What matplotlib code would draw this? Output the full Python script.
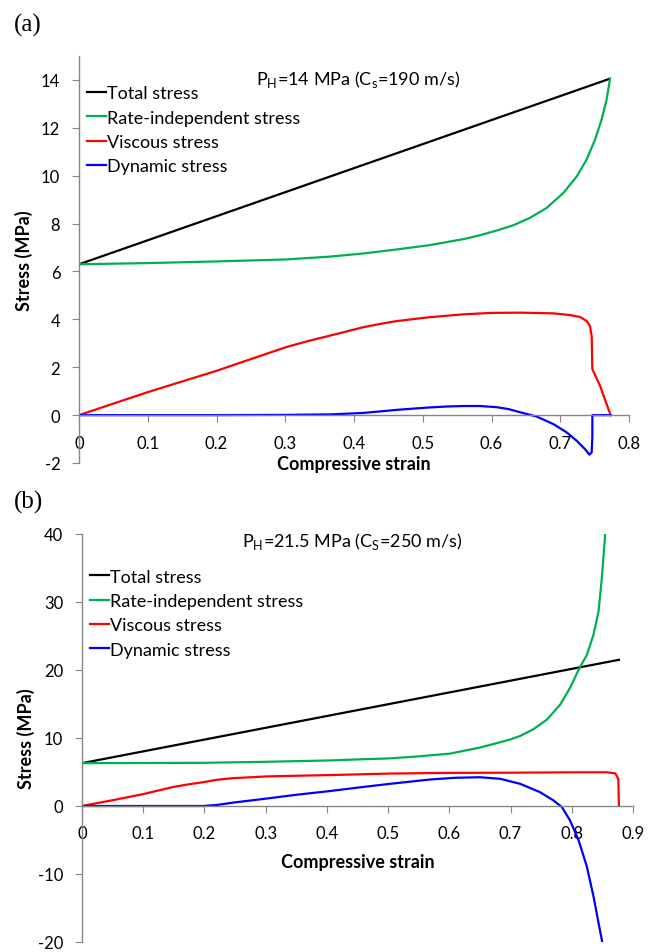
import numpy as np
import matplotlib.pyplot as plt

plt.rcParams['font.family'] = ['Lato', 'DejaVu Sans']
plt.rcParams['mathtext.fontset'] = 'custom'
plt.rcParams['mathtext.rm'] = 'Lato'
plt.rcParams['axes.unicode_minus'] = False

# ---- panel (a): P_H = 14 MPa ----
a_total_x = [0.0, 0.772]
a_total_y = [6.3, 14.05]

a_rate_x = [0.0, 0.1, 0.2, 0.3, 0.365, 0.413, 0.4625, 0.51, 0.559, 0.583,
            0.6075, 0.6317, 0.656, 0.68, 0.7045, 0.724, 0.7383, 0.7505, 0.760,
            0.7674, 0.7724]
a_rate_y = [6.3, 6.35, 6.42, 6.5, 6.62, 6.75, 6.92, 7.1, 7.35, 7.51,
            7.71, 7.93, 8.24, 8.65, 9.28, 9.97, 10.67, 11.5, 12.33,
            13.17, 14.05]

a_visc_x = [0.0, 0.1, 0.2, 0.3, 0.33, 0.365, 0.39, 0.413, 0.44, 0.4625,
            0.51, 0.559, 0.6, 0.6415, 0.69, 0.714, 0.7287, 0.7384, 0.7433,
            0.7457, 0.7467, 0.758, 0.7665, 0.7733]
a_visc_y = [0.0, 0.96, 1.85, 2.83, 3.07, 3.32, 3.5, 3.67, 3.82, 3.93,
            4.09, 4.21, 4.27, 4.28, 4.25, 4.18, 4.10, 3.93, 3.72,
            3.3, 1.92, 1.22, 0.53, 0.0]

a_dyn_x = [0.0, 0.2, 0.3, 0.33, 0.365, 0.39, 0.413, 0.44, 0.4625, 0.49,
           0.51, 0.535, 0.559, 0.583, 0.608, 0.625, 0.6415, 0.6656, 0.69,
           0.7093, 0.7238, 0.736, 0.7423, 0.7457, 0.7467, 0.7467, 0.7733]
a_dyn_y = [0.0, 0.0, 0.01, 0.02, 0.03, 0.06, 0.09, 0.16, 0.22, 0.28,
           0.32, 0.36, 0.38, 0.38, 0.33, 0.25, 0.12, -0.06, -0.375,
           -0.72, -1.07, -1.42, -1.65, -1.56, -0.9, 0.0, 0.0]

# ---- panel (b): P_H = 21.5 MPa ----
b_total_x = [0.0, 0.877]
b_total_y = [6.3, 21.5]

b_rate_x = [0.0, 0.2, 0.3, 0.405, 0.45, 0.502, 0.55, 0.601, 0.65, 0.68,
            0.70, 0.7157, 0.7375, 0.7593, 0.781, 0.7974, 0.8126, 0.8246,
            0.8355, 0.8437, 0.849, 0.8546]
b_rate_y = [6.3, 6.35, 6.5, 6.7, 6.85, 7.0, 7.3, 7.7, 8.6, 9.3,
            9.8, 10.3, 11.3, 12.7, 14.9, 17.4, 20.3, 22.2,
            25.2, 28.6, 33.4, 40.0]

b_visc_x = [0.0, 0.05, 0.1, 0.149, 0.175, 0.198, 0.22, 0.247, 0.27, 0.302,
            0.35, 0.405, 0.502, 0.601, 0.701, 0.8, 0.857, 0.871, 0.876, 0.877]
b_visc_y = [0.0, 0.85, 1.75, 2.8, 3.2, 3.5, 3.85, 4.1, 4.2, 4.35,
            4.45, 4.55, 4.77, 4.87, 4.9, 4.95, 4.96, 4.8, 4.0, 0.0]

b_dyn_x = [0.0, 0.198, 0.22, 0.247, 0.27, 0.302, 0.35, 0.405, 0.45, 0.502,
           0.569, 0.61, 0.65, 0.683, 0.7157, 0.748, 0.770, 0.7838, 0.797,
           0.811, 0.8246, 0.8355, 0.8437, 0.850]
b_dyn_y = [0.0, 0.0, 0.15, 0.5, 0.75, 1.1, 1.65, 2.2, 2.7, 3.25,
           3.9, 4.15, 4.23, 4.0, 3.26, 2.04, 0.82, -0.15, -2.1,
           -5.0, -8.9, -13.3, -17.2, -20.1]

labels = ['Total stress', 'Rate-independent stress', 'Viscous stress', 'Dynamic stress']
colors = ['black', '#00B050', '#FF0000', '#0000FF']
grey = '#868686'

fig = plt.figure(figsize=(6.57, 9.53), dpi=100)
ax1 = fig.add_axes([79 / 657, 1 - 464 / 953, 550 / 657, 407 / 953])
ax2 = fig.add_axes([82 / 657, 1 - 943 / 953, 551 / 657, 408 / 953])


def style(ax, xmax, ymin, ymax, yticks):
    ax.set_xlim(0, xmax)
    ax.set_ylim(ymin, ymax)
    ax.spines['top'].set_visible(False)
    ax.spines['right'].set_visible(False)
    ax.spines['bottom'].set_position(('data', 0))
    for s in ['left', 'bottom']:
        ax.spines[s].set_color(grey)
        ax.spines[s].set_linewidth(1.0)
    ax.set_xticks(np.arange(0, xmax + 0.001, 0.1))
    ax.set_xticklabels(['0'] + ['%.1f' % v for v in np.arange(0.1, xmax + 0.001, 0.1)])
    ax.set_yticks(yticks)
    ax.tick_params(axis='x', direction='out', length=5, color=grey, pad=9, labelsize=12)
    ax.tick_params(axis='y', direction='out', length=5, color=grey, pad=8.5, labelsize=12)
    ax.set_xlabel('Compressive strain', fontweight='bold', fontsize=13)
    ax.set_ylabel('Stress (MPa)', fontweight='bold', fontsize=13)


series_a = [(a_total_x, a_total_y), (a_rate_x, a_rate_y), (a_visc_x, a_visc_y), (a_dyn_x, a_dyn_y)]
series_b = [(b_total_x, b_total_y), (b_rate_x, b_rate_y), (b_visc_x, b_visc_y), (b_dyn_x, b_dyn_y)]

for (x, y), lab, c in zip(series_a, labels, colors):
    ax1.plot(x, y, color=c, lw=1.6, label=lab, solid_joinstyle='round')
for (x, y), lab, c in zip(series_b, labels, colors):
    ax2.plot(x, y, color=c, lw=1.6, label=lab, solid_joinstyle='round')

style(ax1, 0.8, -2, 15, np.arange(-2, 15, 2))
style(ax2, 0.9, -20, 40, np.arange(-20, 41, 10))

ax1.xaxis.set_label_coords(0.5, 0.02)
ax1.yaxis.set_label_coords(-0.084, 0.5)
ax2.xaxis.set_label_coords(0.5, 0.218)
ax2.yaxis.set_label_coords(-0.085, 0.5)

for ax, anchor in [(ax1, (0.0145, 0.928)), (ax2, (0.0145, 0.915))]:
    ax.legend(loc='upper left', bbox_to_anchor=anchor, frameon=False, fontsize=13,
              handlelength=1.05, handletextpad=0.05, labelspacing=0.46,
              borderaxespad=0, borderpad=0)

ax1.text(0.508, 0.945, r'P$_\mathregular{H}$=14 MPa (C$_\mathregular{s}$=190 m/s)',
         transform=ax1.transAxes, ha='center', va='center', fontsize=13)
ax2.text(0.49, 0.983, r'P$_\mathregular{H}$=21.5 MPa (C$_\mathregular{S}$=250 m/s)',
         transform=ax2.transAxes, ha='center', va='center', fontsize=13)

fig.text(14 / 657, 1 - 25 / 953, '(a)', family='Liberation Serif', fontsize=18,
         ha='left', va='center')
fig.text(14 / 657, 1 - 502 / 953, '(b)', family='Liberation Serif', fontsize=18,
         ha='left', va='center')

fig.savefig('out.png', dpi=100)
